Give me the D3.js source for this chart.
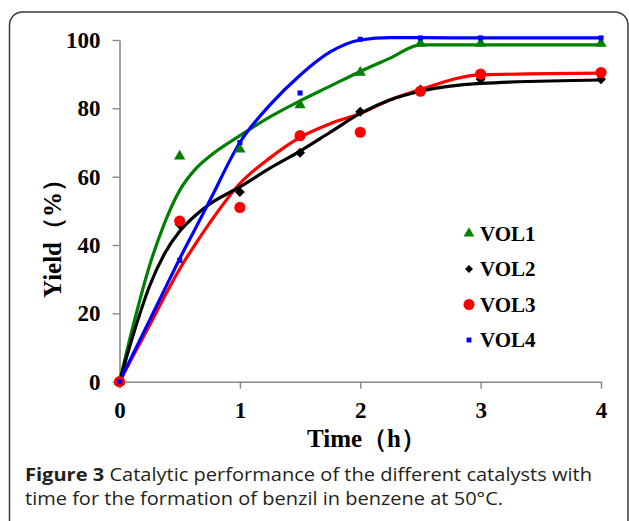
<!DOCTYPE html>
<html>
<head>
<meta charset="utf-8">
<script src="https://cdn.jsdelivr.net/npm/d3@7"></script>
<style>
body { margin: 0; background: #fff; }
</style>
</head>
<body>
<svg id="chart" width="629" height="521"></svg>
<script>
// measured points (time in h, yield in %)
const times = [0, 0.5, 1, 1.5, 2, 2.5, 3, 4];
const vol1 = [0, 66, 68, 81, 90.5, 99, 99, 99];
const vol2 = [0, 46, 55.5, 67, 79, 85.5, 88.5, 88.5];
const vol3 = [0, 47, 51, 72, 73, 85, 90, 90.5];
const vol4 = [0, 35.5, 70, 84.5, 100.2, 100.6, 100.6, 100.6];

// smoothed curves
const fitTimes = [0, 0.125, 0.25, 0.375, 0.5, 0.625, 0.75, 1, 1.25, 1.5, 1.75, 2, 2.25, 2.5, 3, 4];
const fit1 = [0, 18, 34, 46.5, 56, 62, 66, 72, 77.5, 82.2, 86.5, 90.8, 94.7, 98.6, 98.6, 98.6];
const fit2 = [0, 15, 28, 37.5, 44, 48.5, 52, 57, 62.5, 67.5, 73, 78.5, 82.5, 85, 87.3, 88.3];
const fit3 = [0, 8.3, 16.5, 25, 33, 40, 46.5, 58, 65.5, 71.5, 75.5, 78.5, 82.5, 85.5, 89.8, 90.3];
const fit4 = [0, 9, 18, 27, 36, 44.5, 53, 70, 81, 89.7, 96.5, 100, 100.7, 100.7, 100.6, 100.6];

const names = ["VOL1", "VOL2", "VOL3", "VOL4"];
const colors = ["#008000", "#000000", "#ff0000", "#0000ff"];
const xTicks = [0, 1, 2, 3, 4];
const yTicks = [0, 20, 40, 60, 80, 100];

const svg = d3.select("#chart");
const serif = "'Liberation Serif', 'Times New Roman', serif";

// figure frame (rounded top, open at the bottom)
svg.append("rect")
  .attr("x", 9.5).attr("y", 12)
  .attr("width", 618.5).attr("height", 600)
  .attr("rx", 13)
  .attr("fill", "none")
  .attr("stroke", "#3a3a3a")
  .attr("stroke-width", 1.5);

const x = d3.scaleLinear().domain([0, 4]).range([119.5, 601]);
const y = d3.scaleLinear().domain([0, 100]).range([381.7, 40]);

// axes
let yAxis = svg.append("g")
  .attr("transform", "translate(" + x(0) + ",0)")
  .call(d3.axisLeft(y).tickValues(yTicks).tickSize(7).tickSizeOuter(0).tickPadding(12));
let xAxis = svg.append("g")
  .attr("transform", "translate(0," + y(0) + ")")
  .call(d3.axisBottom(x).tickValues(xTicks).tickFormat(d3.format("d"))
    .tickSize(7).tickSizeOuter(0).tickPadding(13));

[yAxis, xAxis].forEach(function(ax){
  ax.select(".domain").attr("stroke", "#878787").attr("stroke-width", 1.6);
  ax.selectAll(".tick line").attr("stroke", "#878787").attr("stroke-width", 1.4);
  ax.selectAll(".tick text")
    .attr("fill", "#000")
    .style("font-family", serif)
    .style("font-weight", "bold")
    .style("font-size", "23px");
});

// curves
const fits = [fit1, fit2, fit3, fit4];
const drawOrder = [0, 2, 1, 3];
let line = d3.line()
  .x(function(d){ return x(d[0]); })
  .y(function(d){ return y(d[1]); })
  .curve(d3.curveMonotoneX);

drawOrder.forEach(function(i){
  let pts = fitTimes.map(function(t, k){ return [t, fits[i][k]]; });
  svg.append("path")
    .attr("d", line(pts))
    .attr("fill", "none")
    .attr("stroke", colors[i])
    .attr("stroke-width", 3.2)
    .attr("stroke-linejoin", "round");
});

// markers
const series = [vol1, vol2, vol3, vol4];
const symbols = [
  d3.symbol().type(d3.symbolTriangle).size(55),
  d3.symbol().type(d3.symbolSquare).size(50),
  d3.symbol().type(d3.symbolCircle).size(98),
  d3.symbol().type(d3.symbolSquare).size(26)
];
const rot = [0, 45, 0, 0];

for (let i = 0; i < series.length; i++) {
  svg.append("g").selectAll("path")
    .data(times.map(function(t, k){ return [t, series[i][k]]; }))
    .join("path")
    .attr("d", symbols[i]())
    .attr("transform", function(d){
      return "translate(" + x(d[0]) + "," + y(d[1]) + ") rotate(" + rot[i] + ")";
    })
    .attr("fill", colors[i]);
}

// legend
const legendSymbols = [
  d3.symbol().type(d3.symbolTriangle).size(50),
  d3.symbol().type(d3.symbolSquare).size(32),
  d3.symbol().type(d3.symbolCircle).size(95),
  d3.symbol().type(d3.symbolSquare).size(24)
];
for (let i = 0; i < names.length; i++) {
  let ly = 233.5 + i * 35.5;
  svg.append("path")
    .attr("d", legendSymbols[i]())
    .attr("transform", "translate(469," + ly + ") rotate(" + rot[i] + ")")
    .attr("fill", colors[i]);
  svg.append("text")
    .attr("x", 480).attr("y", ly + 7)
    .style("font-family", serif)
    .style("font-weight", "bold")
    .style("font-size", "21px")
    .text(names[i]);
}

// axis titles
svg.append("text")
  .attr("x", 307).attr("y", 447)
  .style("font-family", serif)
  .style("font-weight", "bold")
  .style("font-size", "25px")
  .text("Time（h）");

svg.append("text")
  .attr("transform", "translate(61,298) rotate(-90)")
  .style("font-family", serif)
  .style("font-weight", "bold")
  .style("font-size", "25px")
  .text("Yield（%）");

// caption
const capFont = "'Open Sans', 'Noto Sans', sans-serif";
let cap1 = svg.append("text")
  .attr("x", 25).attr("y", 481)
  .attr("textLength", 567).attr("lengthAdjust", "spacingAndGlyphs")
  .style("font-family", capFont)
  .style("font-size", "18px")
  .attr("fill", "#231f20");
cap1.append("tspan").style("font-weight", "bold").text("Figure 3");
cap1.append("tspan").text(" Catalytic performance of the different catalysts with");
svg.append("text")
  .attr("x", 25).attr("y", 505)
  .attr("textLength", 478).attr("lengthAdjust", "spacingAndGlyphs")
  .style("font-family", capFont)
  .style("font-size", "18px")
  .attr("fill", "#231f20")
  .text("time for the formation of benzil in benzene at 50°C.");
</script>
</body>
</html>
